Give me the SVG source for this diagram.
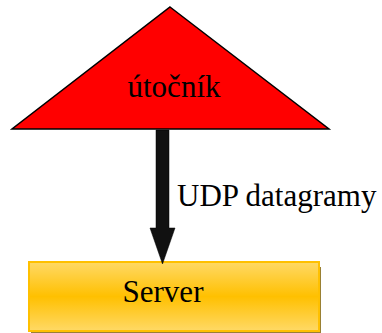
<svg xmlns="http://www.w3.org/2000/svg" width="382" height="333" viewBox="0 0 382 333">
<style>
.t{font-family:'Liberation Serif','DejaVu Serif',serif;font-size:31px;fill:#000}
</style>
<defs>
<linearGradient id="g" x1="0" y1="0" x2="0" y2="1">
<stop offset="0" stop-color="#ffd966"/>
<stop offset="0.5" stop-color="#ffc000"/>
<stop offset="1" stop-color="#ffd966"/>
</linearGradient>
</defs>
<rect width="382" height="333" fill="#fff"/>
<g id="attacker">
<polygon points="170,7 329,129 12,129" fill="#ff0000" stroke="#000" stroke-width="1.5" stroke-linejoin="miter"/>
<text class="t" font-family="Liberation Serif" x="174" y="97" text-anchor="middle" textLength="93">útočník</text>
</g>
<g id="server">
<rect x="31" y="267" width="290" height="66" fill="#7f6000" opacity="0.8"/>
<rect x="29" y="262" width="290" height="69" fill="url(#g)" stroke="#ffc000" stroke-width="2"/>
<text class="t" font-family="Liberation Serif" x="163" y="302" text-anchor="middle">Server</text>
</g>
<g id="connectors">
<polygon points="156,130 169,130 169,228 175,228 162.5,264 150,228 156,228" fill="#111" stroke="#000" stroke-width="0.5"/>
<text class="t" font-family="Liberation Serif" x="177" y="206">UDP datagramy</text>
</g>
</svg>
